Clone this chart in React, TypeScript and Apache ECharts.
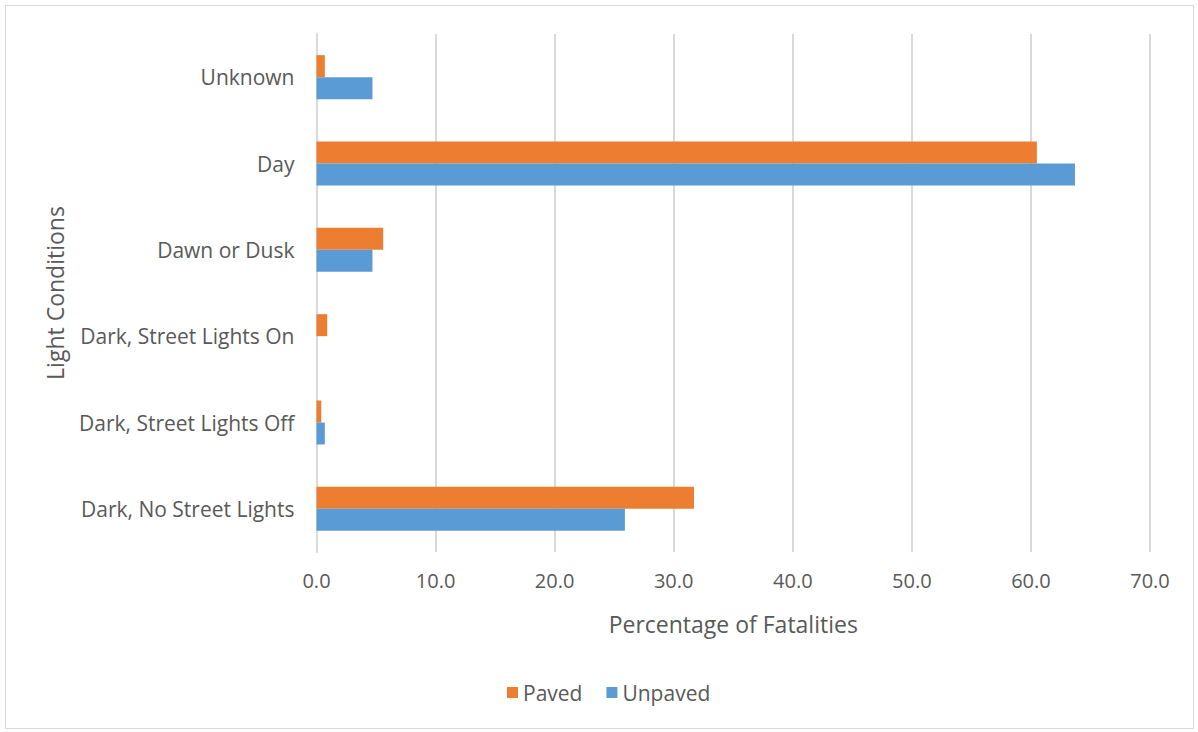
import React, { useEffect, useRef } from "react";
import * as echarts from "echarts";

// Light conditions, listed bottom to top on the category axis
const categories = [
  "Dark, No Street Lights",
  "Dark, Street Lights Off",
  "Dark, Street Lights On",
  "Dawn or Dusk",
  "Day",
  "Unknown",
];
const pavedValues = [31.7, 0.4, 0.9, 5.6, 60.5, 0.7];
const unpavedValues = [25.9, 0.7, 0, 4.7, 63.7, 4.7];
const xTicks = { min: 0, max: 70, interval: 10 };

const TEXT = "#595959";
const GRID = "#D9D9D9";
const FONT = "'Open Sans', 'Noto Sans', sans-serif";

export default function App() {
  const ref = useRef<HTMLDivElement>(null);

  useEffect(() => {
    document.body.style.margin = "0";
    if (!ref.current) return;
    const chart = echarts.init(ref.current, undefined, { renderer: "svg" });
    chart.setOption({
      animation: false,
      backgroundColor: "#fff",
      textStyle: { fontFamily: FONT, color: TEXT },
      grid: { left: 316.5, right: 48, top: 34, bottom: 180, containLabel: false },
      legend: {
        data: ["Paved", "Unpaved"],
        bottom: 24,
        left: 502,
        itemWidth: 11,
        itemHeight: 11,
        itemGap: 24,
        icon: "rect",
        textStyle: { fontFamily: FONT, fontSize: 21, color: TEXT },
      },
      xAxis: {
        type: "value",
        min: xTicks.min,
        max: xTicks.max,
        interval: xTicks.interval,
        name: "Percentage of Fatalities",
        nameLocation: "middle",
        nameGap: 60,
        nameTextStyle: { fontFamily: FONT, fontSize: 23, color: TEXT },
        axisLine: { show: false },
        axisTick: { show: false },
        axisLabel: {
          fontFamily: FONT,
          fontSize: 20,
          color: TEXT,
          margin: 18,
          formatter: (v: number) => v.toFixed(1),
        },
        splitLine: { show: true, lineStyle: { color: GRID, width: 2 } },
      },
      yAxis: {
        type: "category",
        data: categories,
        name: "Light Conditions",
        nameLocation: "middle",
        nameGap: 250,
        nameRotate: 90,
        nameTextStyle: { fontFamily: FONT, fontSize: 23, color: TEXT },
        axisLine: { show: true, lineStyle: { color: GRID, width: 2 } },
        axisTick: { show: false },
        axisLabel: { fontFamily: FONT, fontSize: 21, color: TEXT, margin: 22 },
        splitLine: { show: false },
      },
      series: [
        {
          name: "Paved",
          type: "bar",
          data: pavedValues,
          barWidth: 22,
          barGap: "0%",
          itemStyle: { color: "#ED7D31" },
        },
        {
          name: "Unpaved",
          type: "bar",
          data: unpavedValues,
          barWidth: 22,
          barGap: "0%",
          itemStyle: { color: "#5B9BD5" },
        },
      ],
    });
    return () => chart.dispose();
  }, []);

  return (
    <div style={{ position: "relative", width: 1198, height: 732, background: "#fff" }}>
      <div ref={ref} style={{ position: "absolute", left: 0, top: 0, width: 1198, height: 732 }} />
      <div
        style={{
          position: "absolute",
          left: 5,
          top: 5,
          width: 1189,
          height: 724,
          border: "1px solid #D9D9D9",
          boxSizing: "border-box",
          pointerEvents: "none",
        }}
      />
    </div>
  );
}
